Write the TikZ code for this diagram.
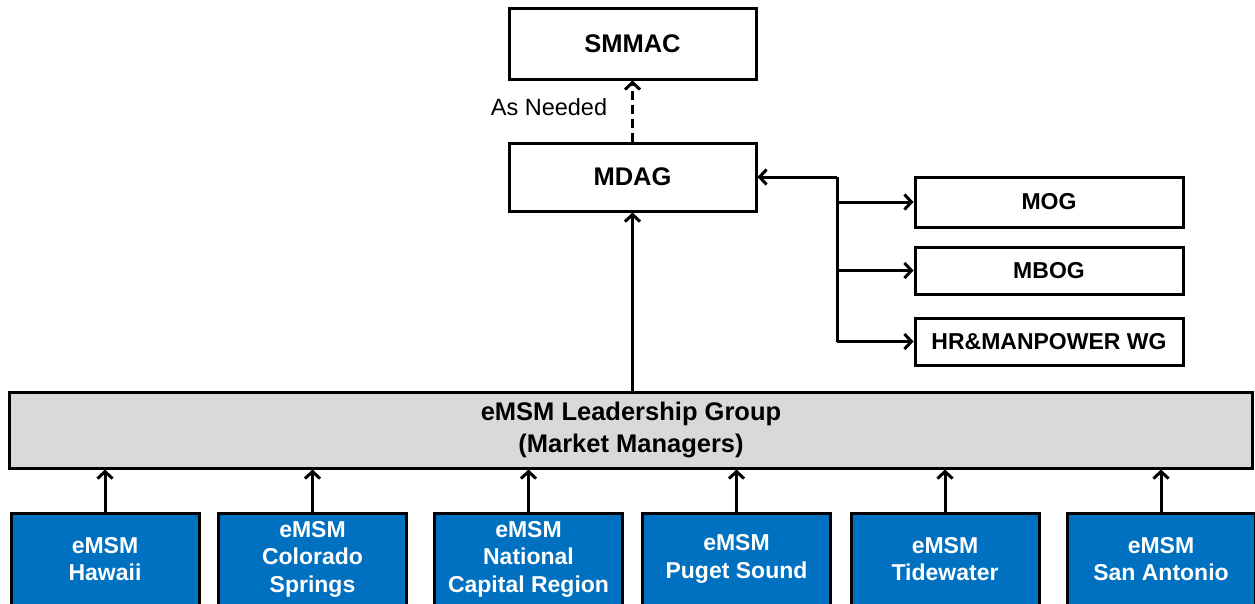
\documentclass[tikz,border=0pt]{standalone}
\usepackage{fontspec}
\setmainfont{Liberation Sans}
\usetikzlibrary{arrows.meta}
\definecolor{emsmblue}{HTML}{0070C0}
\definecolor{leadgray}{HTML}{D9D9D9}
\tikzset{
  box/.style={draw=black, line width=3pt, fill=white, inner sep=0pt, align=center,
              font=\fontsize{23}{27}\selectfont\bfseries},
  topbox/.style={box, minimum width=247pt, font=\fontsize{25.5}{30}\selectfont\bfseries},
  leadbox/.style={box, fill=leadgray, font=\fontsize{25.5}{32}\selectfont\bfseries},
  sitebox/.style={box, fill=emsmblue, text=white, minimum width=188pt, minimum height=92pt,
                  font=\fontsize{23}{27.5}\selectfont\bfseries},
  arr/.style={line width=3pt, -{Straight Barb[length=7pt, width=15pt, line width=3pt]}},
  link/.style={line width=3pt},
}
\begin{document}
\begin{tikzpicture}[x=1pt, y=-1pt]
  \useasboundingbox (0,0) rectangle (1255,603);

  % upper chain
  \node[topbox, minimum height=71pt] (smmac) at (632.5,43.5) {SMMAC};
  \node[topbox, minimum height=68pt] (mdag) at (632.5,177) {MDAG};
  \node[font=\fontsize{23.5}{27}\selectfont] (asneeded) at (549,107) {As Needed};

  % working groups
  \node[box, minimum width=268pt, minimum height=50pt] (mog) at (1049,202) {MOG};
  \node[box, minimum width=268pt, minimum height=47pt] (mbog) at (1049,270.5) {MBOG};
  \node[box, minimum width=268pt, minimum height=47pt] (hr) at (1049,341.5) {HR\&MANPOWER WG};

  % leadership group
  \node[leadbox, minimum width=1243pt, minimum height=76pt] (lead) at (631,430) {eMSM\ Leadership Group\\(Market Managers)};

  % market sites
  \node[sitebox] (hawaii) at (105,559) {eMSM\\Hawaii};
  \node[sitebox] (colorado) at (312.5,559) {eMSM\\Colorado\\Springs};
  \node[sitebox] (ncr) at (528.5,559) {eMSM\\National\\Capital Region};
  \node[sitebox] (puget) at (736.5,559) {eMSM\\Puget Sound};
  \node[sitebox] (tide) at (945,559) {eMSM\\Tidewater};
  \node[sitebox] (sanant) at (1161,559) {eMSM\\San Antonio};

  % connectors
  \draw[arr, dash pattern=on 9pt off 5pt] (mdag.north) -- (smmac.south);
  \draw[arr] (lead.north -| mdag) -- (mdag.south);

  \coordinate (split) at (837,177);
  \draw[arr] (split) -- (mdag.east);
  \draw[link] (split) -- (split |- hr.west);
  \draw[arr] (split |- mog.west) -- (mog.west);
  \draw[arr] (split |- mbog.west) -- (mbog.west);
  \draw[arr] (split |- hr.west) -- (hr.west);

  \foreach \s in {hawaii, colorado, ncr, puget, tide, sanant}
    \draw[arr] (\s.north) -- (\s.north |- lead.south);
\end{tikzpicture}
\end{document}
